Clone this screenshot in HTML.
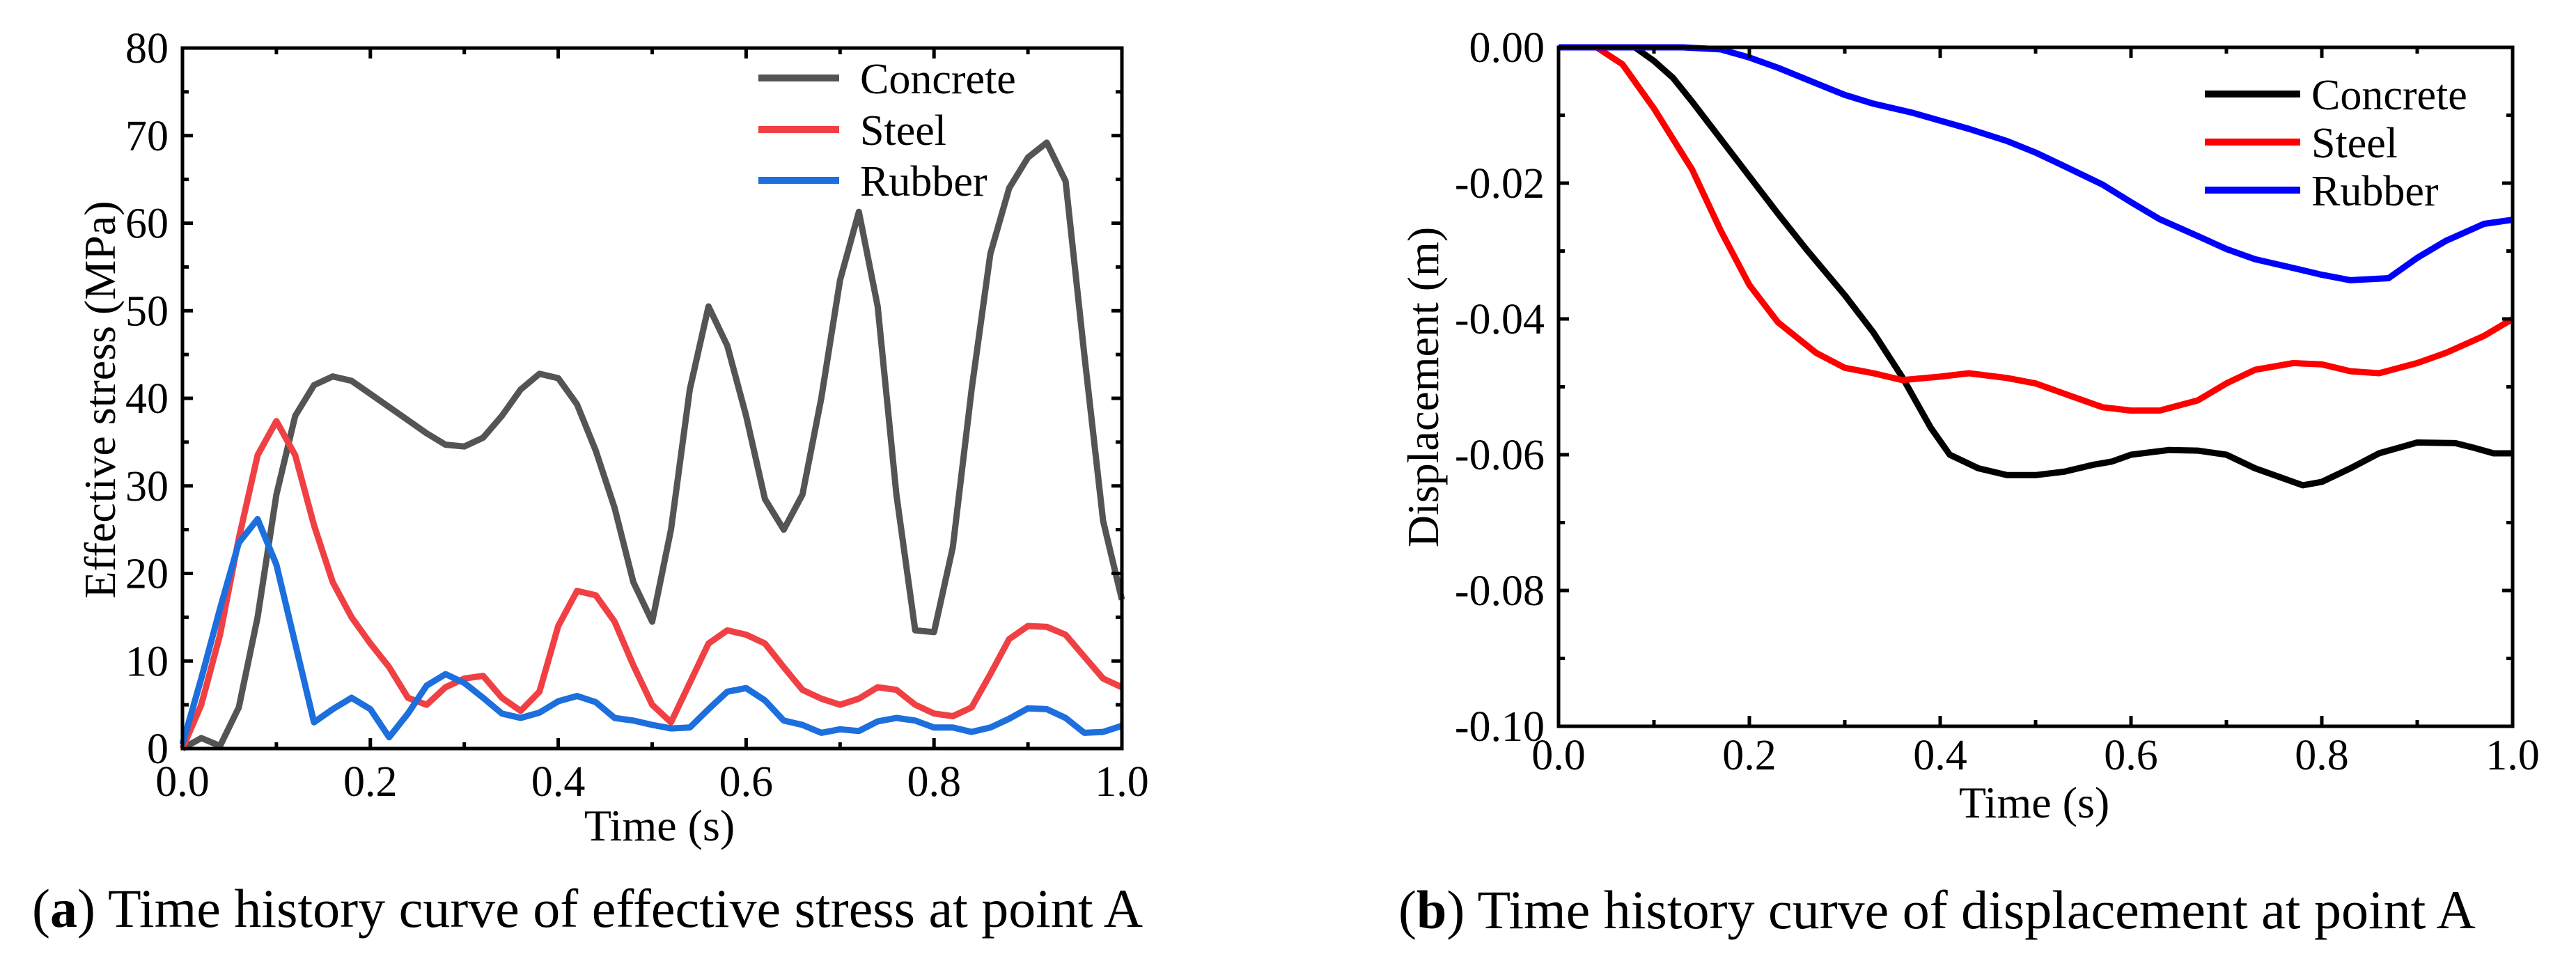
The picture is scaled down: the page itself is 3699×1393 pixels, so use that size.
<!DOCTYPE html>
<html><head><meta charset="utf-8"><style>
html,body{margin:0;padding:0;background:#fff;}
svg{display:block;font-family:"Liberation Serif",serif;}
</style></head><body>
<svg id="fig" width="3699" height="1393" viewBox="0 0 3699 1393" xmlns="http://www.w3.org/2000/svg">
<text x="46" y="1331" font-size="78">(<tspan font-weight="bold">a</tspan>) Time history curve of effective stress at point A</text>
<text x="2008" y="1333" font-size="78">(<tspan font-weight="bold">b</tspan>) Time history curve of displacement at point A</text>
</svg>
<script>
// ---- Chart A data ----
const tA = [0,0.02,0.04,0.06,0.08,0.10,0.12,0.14,0.16,0.18,0.20,0.22,0.24,0.26,0.28,0.30,0.32,0.34,0.36,0.38,0.40,0.42,0.44,0.46,0.48,0.50,0.52,0.54,0.56,0.58,0.60,0.62,0.64,0.66,0.68,0.70,0.72,0.74,0.76,0.78,0.80,0.82,0.84,0.86,0.88,0.90,0.92,0.94,0.96,0.98,1.0];
const concreteA = [0,1.2,0.3,4.7,15,29,38,41.5,42.5,42,40.5,39,37.5,36,34.7,34.5,35.5,38,41,42.8,42.3,39.3,34,27.5,19,14.5,25,41,50.5,46,38,28.5,25,29,40,53.5,61.3,50.5,29,13.5,13.3,23,41,56.5,64,67.5,69.2,64.8,45,26,17];
const steelA = [0,5,13,24,33.5,37.4,33.5,25.5,19,15,12,9.3,5.8,5,7,8,8.3,5.8,4.3,6.5,14,18,17.5,14.5,9.5,5,3,7.5,12,13.5,13,12,9.3,6.7,5.7,5,5.7,7,6.7,5,4,3.7,4.7,8.5,12.5,14,13.9,13,10.5,8,7];
const rubberA = [0.5,8,16,23.5,26.2,21,12,3,4.5,5.8,4.5,1.3,4,7.2,8.5,7.5,5.8,4,3.5,4.1,5.4,6,5.3,3.5,3.2,2.7,2.3,2.4,4.5,6.5,6.9,5.5,3.2,2.7,1.8,2.2,2,3.1,3.5,3.2,2.4,2.4,1.9,2.4,3.4,4.6,4.5,3.5,1.8,1.9,2.6];
const xTicksA = ["0.0","0.2","0.4","0.6","0.8","1.0"];
const yTicksA = ["0","10","20","30","40","50","60","70","80"];
// ---- Chart B data ----
const tBc = [0,0.08,0.10,0.12,0.14,0.17,0.20,0.23,0.26,0.30,0.33,0.36,0.39,0.41,0.44,0.47,0.50,0.53,0.56,0.58,0.60,0.64,0.67,0.70,0.73,0.76,0.78,0.80,0.83,0.86,0.90,0.94,0.96,0.98,1.0];
const concreteB = [0,0,-0.002,-0.0045,-0.008,-0.0135,-0.019,-0.0245,-0.0298,-0.0365,-0.042,-0.0485,-0.056,-0.060,-0.062,-0.063,-0.063,-0.0625,-0.0615,-0.061,-0.060,-0.0593,-0.0594,-0.060,-0.062,-0.0635,-0.0645,-0.064,-0.062,-0.0598,-0.0582,-0.0583,-0.059,-0.0598,-0.0598];
const tBs = [0,0.04,0.067,0.10,0.14,0.17,0.20,0.23,0.27,0.30,0.33,0.36,0.40,0.43,0.47,0.50,0.53,0.57,0.60,0.63,0.67,0.70,0.73,0.77,0.80,0.83,0.86,0.90,0.93,0.97,1.0];
const steelB = [0,0,-0.0025,-0.009,-0.018,-0.027,-0.035,-0.0405,-0.045,-0.0472,-0.048,-0.049,-0.0485,-0.048,-0.0487,-0.0495,-0.051,-0.053,-0.0535,-0.0535,-0.052,-0.0495,-0.0475,-0.0465,-0.0467,-0.0477,-0.048,-0.0465,-0.045,-0.0425,-0.040];
const tBr = [0,0.13,0.17,0.20,0.23,0.27,0.30,0.33,0.37,0.40,0.43,0.47,0.50,0.53,0.57,0.60,0.63,0.67,0.70,0.73,0.77,0.80,0.83,0.87,0.90,0.93,0.97,1.0];
const rubberB = [0,0,-0.0003,-0.0015,-0.003,-0.0053,-0.007,-0.0083,-0.0096,-0.0108,-0.012,-0.0138,-0.0155,-0.0175,-0.0202,-0.0228,-0.0253,-0.0278,-0.0297,-0.0312,-0.0325,-0.0335,-0.0343,-0.034,-0.031,-0.0285,-0.026,-0.0254];
const xTicksB = ["0.0","0.2","0.4","0.6","0.8","1.0"];
const yTicksB = ["0.00","-0.02","-0.04","-0.06","-0.08","-0.10"];

const NS = "http://www.w3.org/2000/svg";
const svg = document.getElementById('fig');
function mk(tag, attrs, parent){
  const e = document.createElementNS(NS, tag);
  for (const k in attrs) e.setAttribute(k, attrs[k]);
  (parent||svg).appendChild(e);
  return e;
}
function chart(o){
  const g = mk('g', {});
  
  
  const sx = v => o.L + (v - o.x0) / (o.x1 - o.x0) * (o.R - o.L);
  const sy = v => o.B - (v - o.y0) / (o.y1 - o.y0) * (o.B - o.T);
  o.series.forEach(s => {
    let d = s.x.map((xv,i)=> (i?'L':'M') + sx(xv).toFixed(1) + ' ' + sy(s.y[i]).toFixed(1)).join(' ');
    const p = mk('path', {d:d, fill:'none', stroke:s.color, 'stroke-width':o.lw, 'stroke-linejoin':'round'}, g);
    
    
  });
  const tk = mk('g', {stroke:'#000', 'stroke-width':5}, g);
  
  
  o.xTicks.forEach((lab, i) => {
    const v = +lab; const x = sx(v);
    mk('line', {x1:x, y1:o.B, x2:x, y2:o.B-15}, tk);
    mk('line', {x1:x, y1:o.T, x2:x, y2:o.T+15}, tk);
    const t = mk('text', {x:x, y:o.B+o.xlabOff, 'font-size':o.fs, 'text-anchor':'middle'}, g);
    t.textContent = lab;
    
    
    if (i < o.xTicks.length-1) {
      const m = sx(v + o.xMinor);
      mk('line', {x1:m, y1:o.B, x2:m, y2:o.B-9}, tk);
      mk('line', {x1:m, y1:o.T, x2:m, y2:o.T+9}, tk);
    }
  });
  o.yTicks.forEach((lab, i) => {
    const v = +lab; const y = sy(v);
    mk('line', {x1:o.L, y1:y, x2:o.L+15, y2:y}, tk);
    mk('line', {x1:o.R, y1:y, x2:o.R-15, y2:y}, tk);
    const t = mk('text', {x:o.L-20, y:y+21, 'font-size':o.fs, 'text-anchor':'end'}, g);
    t.textContent = lab;
    
    
    if (i < o.yTicks.length-1) {
      const m = sy(v + o.yMinor);
      mk('line', {x1:o.L, y1:m, x2:o.L+9, y2:m}, tk);
      mk('line', {x1:o.R, y1:m, x2:o.R-9, y2:m}, tk);
    }
  });
  const fr = mk('rect', {x:o.L, y:o.T, width:o.R-o.L, height:o.B-o.T, fill:'none', stroke:'#000', 'stroke-width':5}, g);
  
  
  const xt = mk('text', {x:o.xtX, y:o.xtY, 'font-size':64, 'text-anchor':'middle'}, g);
  xt.textContent = 'Time (s)';
  
  
  const yt = mk('text', {x:0, y:0, 'font-size':64, 'text-anchor':'middle', transform:`translate(${o.ytX},${o.ytY}) rotate(-90)`}, g);
  yt.textContent = o.yTitle;
  
  
  o.series.forEach((s, i) => {
    const y = o.legY[i];
    const ln = mk('line', {x1:o.legX1, y1:y, x2:o.legX2, y2:y, stroke:s.color, 'stroke-width':10}, g);
    
    
    const t = mk('text', {x:o.legTX, y:y+22, 'font-size':62}, g);
    t.textContent = s.label;
    
    
  });
}
chart({name:'stress-chart', L:262, R:1611, T:69, B:1075, x0:0, x1:1, y0:0, y1:80, lw:9, fs:62,
  xTicks:xTicksA, yTicks:yTicksA, xMinor:0.1, yMinor:5, xlabOff:68,
  xtX:947, xtY:1207, ytX:165, ytY:574, yTitle:'Effective stress (MPa)',
  legX1:1089, legX2:1205, legY:[112,186,259], legTX:1235,
  series:[{id:'concrete',label:'Concrete',color:'#545454',x:tA,y:concreteA},
          {id:'steel',label:'Steel',color:'#f04044',x:tA,y:steelA},
          {id:'rubber',label:'Rubber',color:'#1c6fdc',x:tA,y:rubberA}]});
chart({name:'displacement-chart', L:2238, R:3608, T:68, B:1043, x0:0, x1:1, y0:-0.1, y1:0, lw:9, fs:62,
  xTicks:xTicksB, yTicks:yTicksB, xMinor:0.1, yMinor:-0.01, xlabOff:62,
  xtX:2921, xtY:1174, ytX:2065, ytY:556, yTitle:'Displacement (m)',
  legX1:3166, legX2:3303, legY:[135,204,273], legTX:3319,
  series:[{id:'concrete',label:'Concrete',color:'#000000',x:tBc,y:concreteB},
          {id:'steel',label:'Steel',color:'#ff0000',x:tBs,y:steelB},
          {id:'rubber',label:'Rubber',color:'#0000ff',x:tBr,y:rubberB}]});
</script>
</body></html>
